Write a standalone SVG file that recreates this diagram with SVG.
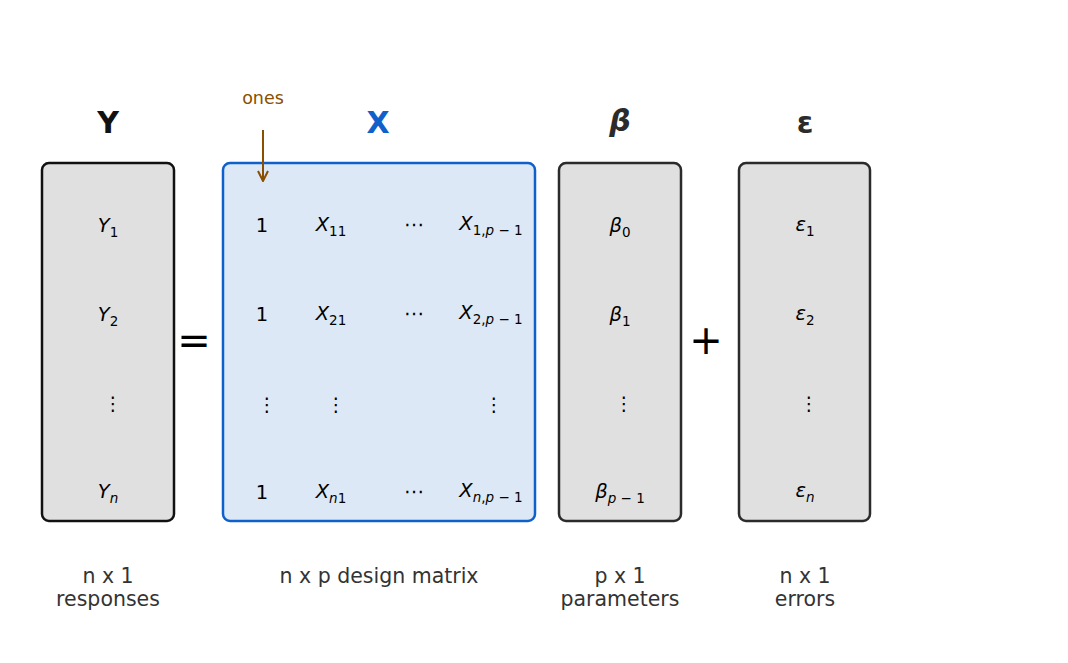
<svg xmlns="http://www.w3.org/2000/svg" width="1068" height="663" viewBox="0 0 1068 663">
<defs>
<style>
.box{stroke-width:2.5}
.gray{fill:#e0e0e0;stroke:#2b2b2b}
.t{font-family:"DejaVu Sans",sans-serif;fill:#000;text-anchor:middle}
.m{font-size:19.5px}
.i{font-style:italic}
.sub{font-size:13.5px}
.hd{font-size:30px;font-weight:bold}
.lab{font-family:"DejaVu Sans",sans-serif;font-size:20.5px;fill:#333;text-anchor:middle}
.dots{font-size:19px}
</style>
<marker id="ah" viewBox="0 0 12 12" refX="11" refY="6" markerWidth="12" markerHeight="12" orient="auto" markerUnits="userSpaceOnUse">
<path d="M1,1 L11,6 L1,11" fill="none" stroke="#8a5000" stroke-width="2"/>
</marker>
</defs>
<rect width="1068" height="663" fill="#fff"/>

<g id="Y">
<text class="t hd" x="108" y="133" style="fill:#111">Y</text>
<rect class="box" x="42" y="163" width="132" height="358" rx="7" fill="#e0e0e0" stroke="#111"/>
<text class="t m" x="108" y="232"><tspan class="i">Y</tspan><tspan class="sub" dy="5">1</tspan></text>
<text class="t m" x="108" y="321"><tspan class="i">Y</tspan><tspan class="sub" dy="5">2</tspan></text>
<text class="t dots" x="113" y="410">⋮</text>
<text class="t m" x="108" y="498"><tspan class="i">Y</tspan><tspan class="sub i" dy="5">n</tspan></text>
<text class="lab" x="108" y="583">n x 1</text>
<text class="lab" x="108" y="606">responses</text>
</g>

<g id="eq"><text class="t" x="194" y="354" style="font-size:40px">=</text></g>

<g id="X">
<text class="t hd" x="378" y="133" style="fill:#1060cc">X</text>
<rect class="box" x="223" y="163" width="312" height="358" rx="7" fill="#dde8f6" stroke="#1060cc"/>
<text class="t m" x="262" y="232">1</text>
<text class="t m" x="331" y="231"><tspan class="i">X</tspan><tspan class="sub" dy="5">11</tspan></text>
<text class="t m" x="414" y="231">⋯</text>
<text class="t m" x="491" y="230"><tspan class="i">X</tspan><tspan class="sub" dy="5">1,<tspan class="i">p</tspan> − 1</tspan></text>
<text class="t m" x="262" y="321">1</text>
<text class="t m" x="331" y="320"><tspan class="i">X</tspan><tspan class="sub" dy="5">21</tspan></text>
<text class="t m" x="414" y="320">⋯</text>
<text class="t m" x="491" y="319"><tspan class="i">X</tspan><tspan class="sub" dy="5">2,<tspan class="i">p</tspan> − 1</tspan></text>
<text class="t dots" x="267" y="411">⋮</text>
<text class="t dots" x="336" y="411">⋮</text>
<text class="t dots" x="494" y="411">⋮</text>
<text class="t m" x="262" y="499">1</text>
<text class="t m" x="331" y="498"><tspan class="i">X</tspan><tspan class="sub" dy="5"><tspan class="i">n</tspan>1</tspan></text>
<text class="t m" x="414" y="498">⋯</text>
<text class="t m" x="491" y="497"><tspan class="i">X</tspan><tspan class="sub" dy="5"><tspan class="i">n</tspan>,<tspan class="i">p</tspan> − 1</tspan></text>
<text class="lab" x="379" y="583">n x p design matrix</text>
</g>

<g id="ones">
<text class="t" x="263" y="104" style="font-size:17.5px;fill:#8a5000">ones</text>
</g>

<g id="connectors">
<line x1="263" y1="130" x2="263" y2="181" stroke="#8a5000" stroke-width="2" marker-end="url(#ah)"/>
</g>

<g id="beta">
<text class="t hd i" x="620" y="131" style="fill:#2b2b2b">β</text>
<rect class="box gray" x="559" y="163" width="122" height="358" rx="7"/>
<text class="t m" x="620" y="232"><tspan class="i">β</tspan><tspan class="sub" dy="5">0</tspan></text>
<text class="t m" x="620" y="321"><tspan class="i">β</tspan><tspan class="sub" dy="5">1</tspan></text>
<text class="t dots" x="624" y="410">⋮</text>
<text class="t m" x="620" y="498"><tspan class="i">β</tspan><tspan class="sub" dy="5"><tspan class="i">p</tspan> − 1</tspan></text>
<text class="lab" x="620" y="583">p x 1</text>
<text class="lab" x="620" y="606">parameters</text>
</g>

<g id="plus"><text class="t" x="706" y="354" style="font-size:40px">+</text></g>

<g id="eps">
<text class="t hd" x="805" y="133" style="fill:#2b2b2b">ε</text>
<rect class="box gray" x="739" y="163" width="131" height="358" rx="7"/>
<text class="t m" x="805" y="231"><tspan class="i">ε</tspan><tspan class="sub" dy="5">1</tspan></text>
<text class="t m" x="805" y="320"><tspan class="i">ε</tspan><tspan class="sub" dy="5">2</tspan></text>
<text class="t dots" x="809" y="410">⋮</text>
<text class="t m" x="805" y="497"><tspan class="i">ε</tspan><tspan class="sub i" dy="5">n</tspan></text>
<text class="lab" x="805" y="583">n x 1</text>
<text class="lab" x="805" y="606">errors</text>
</g>
</svg>
